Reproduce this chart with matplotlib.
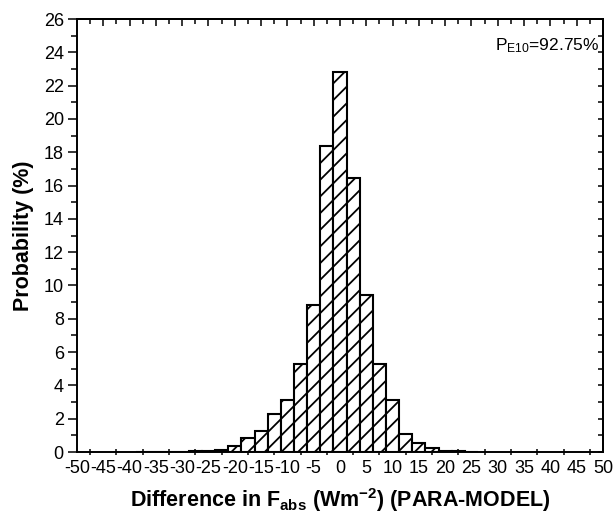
"""
Histogram of the F_abs difference (PARA - MODEL).

Output:
    out.png
"""

import numpy as np
import matplotlib

matplotlib.use("Agg")
import matplotlib.pyplot as plt


# ---------------------------------------------------------------------
# Data
# ---------------------------------------------------------------------

BIN_CENTERS = [-37.5, -35, -32.5, -30, -27.5, -25, -22.5, -20, -17.5, -15,
               -12.5, -10, -7.5, -5, -2.5, 0, 2.5, 5, 7.5, 10,
               12.5, 15, 17.5, 20, 22.5, 25]
PROBABILITY = [0.02, 0.02, 0.03, 0.03, 0.05, 0.08, 0.12, 0.36, 0.86, 1.26,
               2.30, 3.14, 5.30, 8.80, 18.35, 22.80, 16.45, 9.40, 5.28, 3.14,
               1.10, 0.55, 0.25, 0.08, 0.05, 0.02]
BIN_WIDTH = 2.5

X_LABEL_VALUES = list(range(-50, 55, 5))
X_TICK_VALUES = [v + 2.5 for v in range(-50, 50, 5)]
Y_LABEL_VALUES = list(range(0, 28, 2))

ANNOTATION = r"P$_{\mathregular{E10}}$=92.75%"

OUTPUT_PATH = "out.png"


def setup_style():
    plt.rcParams["font.family"] = ["Liberation Sans", "DejaVu Sans"]
    plt.rcParams["mathtext.fontset"] = "custom"
    plt.rcParams["mathtext.rm"] = "Liberation Sans"
    plt.rcParams["mathtext.bf"] = "Liberation Sans:bold"
    plt.rcParams["mathtext.it"] = "Liberation Sans:italic"
    plt.rcParams["hatch.linewidth"] = 1.3
    plt.rcParams["axes.linewidth"] = 1.4


def draw_chart():
    fig = plt.figure(figsize=(6.13, 5.14), dpi=100)
    ax = fig.add_axes([0.1256, 0.1206, 0.858, 0.8424])

    ax.bar(BIN_CENTERS, PROBABILITY, width=BIN_WIDTH, color="white",
           edgecolor="black", linewidth=1.5, hatch="//", zorder=2)

    ax.set_xlim(-50, 50)
    ax.set_ylim(0, 26)

    # bottom: ticks between the labels, labels without ticks
    ax.set_xticks(X_TICK_VALUES)
    ax.set_xticklabels([])
    ax.set_xticks(X_LABEL_VALUES, [str(v) for v in X_LABEL_VALUES], minor=True)
    ax.tick_params(axis="x", which="major", direction="inout", length=5,
                   width=1.1, top=False)
    ax.tick_params(axis="x", which="minor", length=0, pad=6, labelsize=13,
                   top=False)

    # left
    ax.set_yticks(Y_LABEL_VALUES)
    ax.set_yticks(np.arange(1, 26, 2), minor=True)
    ax.tick_params(axis="y", which="major", direction="out", length=6.5,
                   width=1.1, pad=3, labelsize=13, right=False)
    ax.tick_params(axis="y", which="minor", direction="out", length=4,
                   width=1.1, right=False)

    # top and right: inward ticks, no labels
    top = ax.secondary_xaxis("top")
    top.set_xticks(np.arange(-45, 50, 5))
    top.set_xticks(np.arange(-47.5, 50, 5), minor=True)
    top.tick_params(which="major", direction="in", length=5, width=1.1,
                    labeltop=False)
    top.tick_params(which="minor", direction="in", length=3.5, width=1.1)

    right = ax.secondary_yaxis("right")
    right.set_yticks(np.arange(0, 27, 1))
    right.tick_params(direction="in", length=3.5, width=1.1,
                      labelright=False)

    ax.set_xlabel(r"Difference in F$_{\mathbf{abs}}$ (Wm$^{\mathbf{-2}}$) "
                  r"(PARA-MODEL)", fontsize=15.5, fontweight="bold",
                  labelpad=6)
    ax.set_ylabel("Probability (%)", fontsize=15.5, fontweight="bold",
                  labelpad=7)

    ax.text(29.5, 24.4, ANNOTATION, fontsize=12.5, va="center", ha="left")

    fig.savefig(OUTPUT_PATH, dpi=100)
    plt.close(fig)


if __name__ == "__main__":
    setup_style()
    draw_chart()
